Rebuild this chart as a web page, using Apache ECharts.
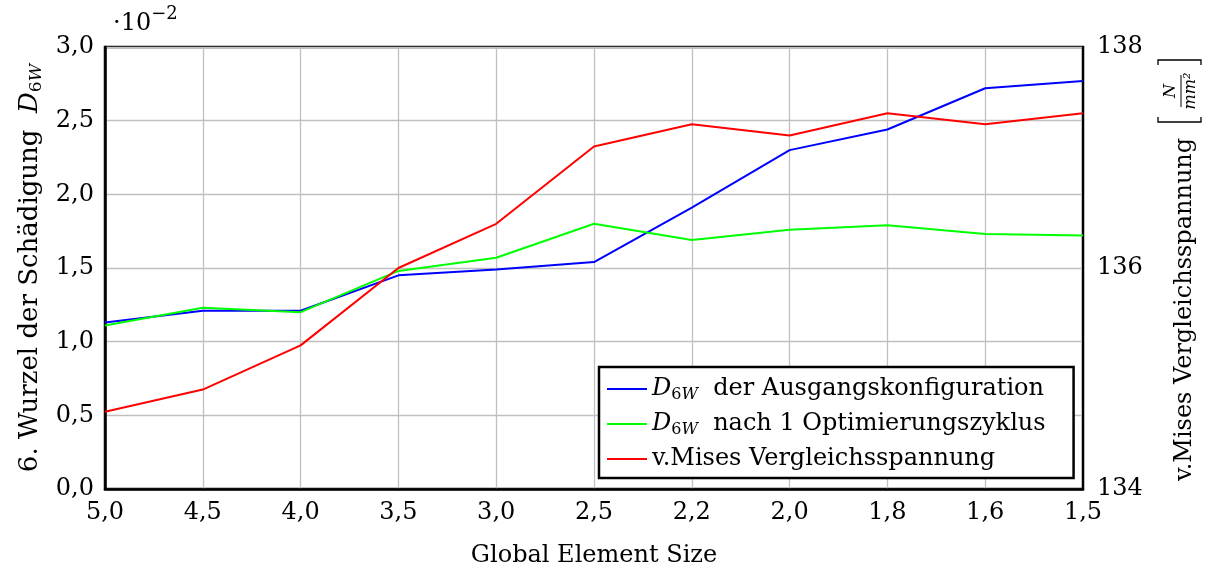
<!DOCTYPE html>
<html>
<head>
<meta charset="utf-8">
<script src="https://cdn.jsdelivr.net/npm/echarts@6/dist/echarts.min.js"></script>
<style>
  html, body { margin: 0; padding: 0; background: #fff; }
  #chart { width: 1208px; height: 572px; }
</style>
</head>
<body>
<div id="chart"></div>
<script>
// Global element size (mesh refinement steps)
const categories = ['5,0', '4,5', '4,0', '3,5', '3,0', '2,5', '2,2', '2,0', '1,8', '1,6', '1,5'];
// 6th root of damage D_6W, in units of 1e-2
const d6wInitial   = [1.13, 1.21, 1.21, 1.45, 1.49, 1.54, 1.91, 2.30, 2.44, 2.72, 2.77];
const d6wOptimized = [1.11, 1.23, 1.20, 1.48, 1.57, 1.80, 1.69, 1.76, 1.79, 1.73, 1.72];
// von Mises equivalent stress in N/mm^2
const misesStress  = [134.7, 134.9, 135.3, 136.0, 136.4, 137.1, 137.3, 137.2, 137.4, 137.3, 137.4];

const seriesNames = [
  'D6W der Ausgangskonfiguration',
  'D6W nach 1 Optimierungszyklus',
  'v.Mises Vergleichsspannung'
];

const FONT = '"DejaVu Serif", "Liberation Serif", serif';
const FS = 24;
const comma = v => v.toFixed(1).replace('.', ',');

// main text tokens sit slightly above the line bottom, subscripts drop to it
function makeSubRich(size, lh) {
  const sub = Math.round(size * 0.67);
  return {
    t:  { fontFamily: FONT, fontSize: size, lineHeight: lh, padding: [0, 0, 2, 0], verticalAlign: 'bottom', color: '#000' },
    i:  { fontFamily: FONT, fontSize: size, lineHeight: lh, padding: [0, 0, 2, 0], verticalAlign: 'bottom', fontStyle: 'italic', color: '#000' },
    s:  { fontFamily: FONT, fontSize: sub, lineHeight: sub + 2, verticalAlign: 'bottom', color: '#000' },
    si: { fontFamily: FONT, fontSize: sub, lineHeight: sub + 2, verticalAlign: 'bottom', fontStyle: 'italic', color: '#000' }
  };
}

function legendLabel(name) {
  if (name.startsWith('D6W')) {
    return '{i|D}{s|6}{si|W}{t| ' + name.slice(3) + '}';
  }
  return '{t|' + name + '}';
}

const chart = echarts.init(document.getElementById('chart'), null, { renderer: 'canvas' });

const option = {
  animation: false,
  backgroundColor: '#fff',
  grid: {
    left: 105, right: 125, top: 47, bottom: 83,
    show: true, borderColor: '#000', borderWidth: 2.5,
    containLabel: false, outerBoundsMode: 'none'
  },
  legend: {
    left: 599, top: 367,
    orient: 'vertical',
    icon: 'rect',
    itemWidth: 40, itemHeight: 2, itemGap: 9,
    padding: [10, 28, 5, 8],
    borderColor: '#000', borderWidth: 2.5,
    backgroundColor: '#fff',
    data: seriesNames,
    formatter: legendLabel,
    textStyle: { fontFamily: FONT, fontSize: FS, color: '#000', rich: makeSubRich(FS, 28) }
  },
  xAxis: {
    type: 'category',
    data: categories,
    boundaryGap: false,
    axisLine: { lineStyle: { color: '#000', width: 2.5 } },
    axisTick: { show: false },
    axisLabel: { fontFamily: FONT, fontSize: FS, color: '#000', margin: 12 },
    splitLine: { show: true, lineStyle: { color: '#c0c0c0', width: 1.3 } },
    name: 'Global Element Size',
    nameLocation: 'middle',
    nameGap: 55,
    nameTextStyle: { fontFamily: FONT, fontSize: FS, color: '#000' }
  },
  yAxis: [
    {
      type: 'value',
      min: 0, max: 3, interval: 0.5,
      axisLine: { show: true, lineStyle: { color: '#000', width: 2.5 } },
      axisTick: { show: false },
      axisLabel: { fontFamily: FONT, fontSize: FS, color: '#000', margin: 11, formatter: comma },
      splitLine: { show: true, lineStyle: { color: '#c0c0c0', width: 1.3 } },
      name: '{t|6. Wurzel der Schädigung  }{i|D}{s|6}{si|W}',
      nameLocation: 'middle',
      nameRotate: 90,
      nameGap: 60,
      nameTextStyle: { fontFamily: FONT, fontSize: 26, color: '#000', rich: makeSubRich(26, 30) }
    },
    {
      type: 'value',
      min: 134, max: 138, interval: 2,
      position: 'right',
      axisLine: { show: true, lineStyle: { color: '#000', width: 2 } },
      axisTick: { show: false },
      axisLabel: { fontFamily: FONT, fontSize: FS, color: '#000', margin: 14 },
      splitLine: { show: false }
    }
  ],
  series: [
    {
      name: seriesNames[0], type: 'line', yAxisIndex: 0,
      data: d6wInitial, symbol: 'none',
      lineStyle: { color: '#0000ff', width: 2 }, itemStyle: { color: '#0000ff' }
    },
    {
      name: seriesNames[1], type: 'line', yAxisIndex: 0,
      data: d6wOptimized, symbol: 'none',
      lineStyle: { color: '#00ff00', width: 2 }, itemStyle: { color: '#00ff00' }
    },
    {
      name: seriesNames[2], type: 'line', yAxisIndex: 1,
      data: misesStress, symbol: 'none',
      lineStyle: { color: '#ff0000', width: 2 }, itemStyle: { color: '#ff0000' }
    }
  ],
  graphic: [
    // scale factor of the left axis
    {
      type: 'text', x: 113, y: 5,
      style: {
        text: '{a|·10}{b|−2}',
        rich: {
          a: { fontFamily: FONT, fontSize: FS, lineHeight: 27, padding: [7, 0, 0, 0], verticalAlign: 'top', color: '#000' },
          b: { fontFamily: FONT, fontSize: 18, lineHeight: 20, verticalAlign: 'top', color: '#000' }
        }
      }
    },
    // right axis title with unit fraction, rotated
    {
      type: 'group', x: 1185, y: 481, rotation: Math.PI / 2,
      children: [
        {
          type: 'text', x: 0, y: 0,
          style: { text: 'v.Mises Vergleichsspannung', fontFamily: FONT, fontSize: FS, fill: '#000', align: 'left', verticalAlign: 'middle' }
        },
        {
          type: 'polyline',
          shape: { points: [[364, -27], [359, -27], [359, 16], [364, 16]] },
          style: { stroke: '#000', lineWidth: 1.3, fill: null }
        },
        {
          type: 'polyline',
          shape: { points: [[416, -27], [421, -27], [421, 16], [416, 16]] },
          style: { stroke: '#000', lineWidth: 1.3, fill: null }
        },
        {
          type: 'text', x: 390, y: -14,
          style: { text: 'N', fontFamily: FONT, fontSize: 16, fontStyle: 'italic', fill: '#000', align: 'center', verticalAlign: 'middle' }
        },
        {
          type: 'line',
          shape: { x1: 374, y1: -4, x2: 406, y2: -4 },
          style: { stroke: '#000', lineWidth: 1 }
        },
        {
          type: 'text', x: 390, y: 6,
          style: { text: 'mm²', fontFamily: FONT, fontSize: 16, fontStyle: 'italic', fill: '#000', align: 'center', verticalAlign: 'middle' }
        }
      ]
    }
  ]
};

chart.setOption(option);
</script>
</body>
</html>
